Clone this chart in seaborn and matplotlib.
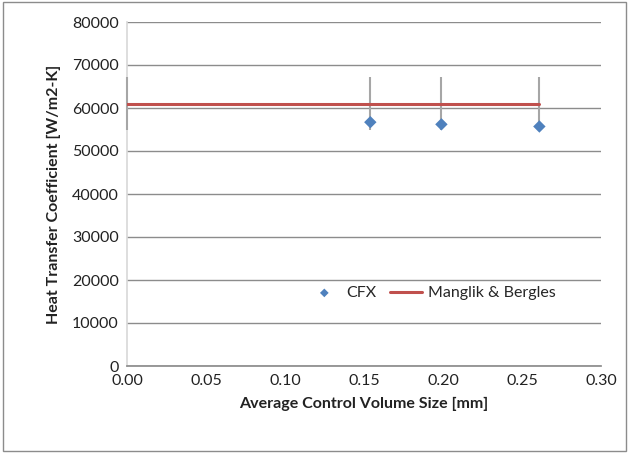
import matplotlib
matplotlib.use("Agg")
import matplotlib.pyplot as plt
import seaborn as sns
import pandas as pd

sns.set_theme(style="white")
plt.rcParams['font.family'] = ['Lato', 'DejaVu Sans']

cfx_x = [0.154, 0.199, 0.261]
cfx_y = [56700, 56200, 55700]
mb_x = [0.0, 0.154, 0.199, 0.261]
mb_y = [61000, 61000, 61000, 61000]
mb_err = [6100, 6100, 6100, 6100]

fig = plt.figure(figsize=(6.29, 4.53), dpi=100)
ax = fig.add_axes([127/629, 1-366/453, (601-127)/629, (366-22)/453])

# error bars on the correlation line
eb = ax.errorbar(mb_x, mb_y, yerr=mb_err, fmt='none', ecolor='#a6a6a6', elinewidth=1.5, capsize=0, zorder=3)
for c in eb.lines[2]:
    c.set_clip_on(False)
df_mb = pd.DataFrame({'x': mb_x, 'y': mb_y})
sns.lineplot(data=df_mb, x='x', y='y', ax=ax, color='#c0504d', linewidth=2.2, label='Manglik & Bergles', zorder=4)
df_cfx = pd.DataFrame({'x': cfx_x, 'y': cfx_y})
sns.scatterplot(data=df_cfx, x='x', y='y', ax=ax, marker='D', color='#4f81bd', s=40, edgecolor='none', label='CFX', zorder=5)

ax.set_xlim(0, 0.30)
ax.set_ylim(0, 80000)
ax.set_xticks([0, 0.05, 0.10, 0.15, 0.20, 0.25, 0.30])
ax.set_xticklabels([f"{v:.2f}" for v in [0, 0.05, 0.10, 0.15, 0.20, 0.25, 0.30]])
ax.set_yticks(range(0, 80001, 10000))
ax.set_yticklabels([str(v) for v in range(0, 80001, 10000)])
ax.yaxis.grid(True, color='#8c8c8c', linewidth=1)
ax.set_axisbelow(True)
for s in ['top', 'right']:
    ax.spines[s].set_visible(False)
ax.spines['left'].set_color('#d9d9d9')
ax.spines['bottom'].set_color('#8c8c8c')
ax.tick_params(axis='both', labelsize=11.5, colors='#222222', length=0, pad=6)
ax.set_xlabel('Average Control Volume Size [mm]', fontsize=11.5, fontweight='bold', color='#222222', labelpad=6)
ax.set_ylabel('Heat Transfer Coefficient [W/m2-K]', fontsize=11.5, fontweight='bold', color='#222222', labelpad=8)

handles, labels = ax.get_legend_handles_labels()
order = [labels.index('CFX'), labels.index('Manglik & Bergles')]
ax.legend([handles[i] for i in order], [labels[i] for i in order], ncol=2, frameon=False,
          loc='center', bbox_to_anchor=((432-127)/474, (366-293)/344), fontsize=11.5,
          handlelength=2.0, columnspacing=0.8, handletextpad=0.4, markerscale=0.7)

border = plt.Rectangle((0.004, 0.004), 0.992, 0.992, transform=fig.transFigure, fill=False,
                       edgecolor='#8c8c8c', linewidth=1)
fig.patches.append(border)
fig.savefig('out.png', dpi=100)
